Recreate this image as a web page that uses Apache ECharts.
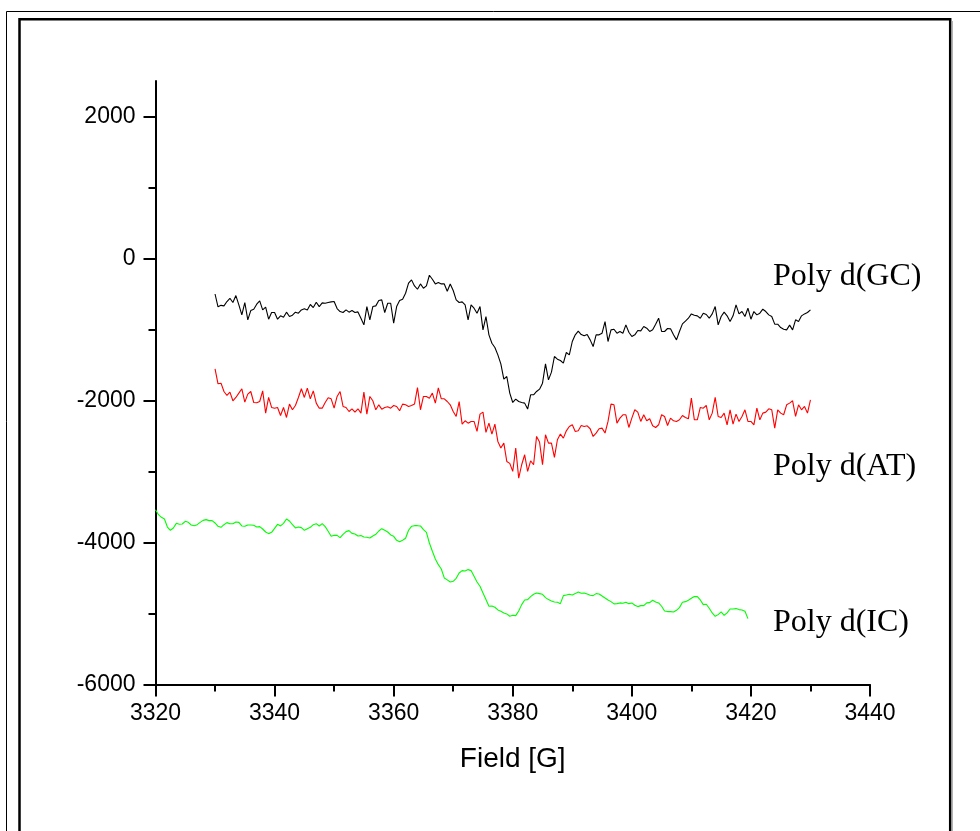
<!DOCTYPE html>
<html>
<head>
<meta charset="utf-8">
<script src="https://cdn.jsdelivr.net/npm/echarts@6/dist/echarts.min.js"></script>
<style>
html,body{margin:0;padding:0;background:#fff;}
#chart{width:980px;height:831px;}
</style>
</head>
<body>
<div id="chart"></div>
<script>
// Field values (G) sampled for Poly d(GC) and Poly d(AT)
var fieldGCAT = [
3330,3330.5,3331,3331.5,3332,3332.5,3333,3333.5,3334,3334.5,
3335,3335.5,3336,3336.5,3337,3337.5,3338,3338.5,3339,3339.5,
3340,3340.5,3341,3341.5,3342,3342.5,3343,3343.5,3344,3344.5,
3345,3345.5,3346,3346.5,3347,3347.5,3348,3348.5,3349,3349.5,
3350,3350.5,3351,3351.5,3352,3352.5,3353,3353.5,3354,3354.5,
3355,3355.5,3356,3356.5,3357,3357.5,3358,3358.5,3359,3359.5,
3360,3360.5,3361,3361.5,3362,3362.5,3363,3363.5,3364,3364.5,
3365,3365.5,3366,3366.5,3367,3367.5,3368,3368.5,3369,3369.5,
3370,3370.5,3371,3371.5,3372,3372.5,3373,3373.5,3374,3374.5,
3375,3375.5,3376,3376.5,3377,3377.5,3378,3378.5,3379,3379.5,
3380,3380.5,3381,3381.5,3382,3382.5,3383,3383.5,3384,3384.5,
3385,3385.5,3386,3386.5,3387,3387.5,3388,3388.5,3389,3389.5,
3390,3390.5,3391,3391.5,3392,3392.5,3393,3393.5,3394,3394.5,
3395,3395.5,3396,3396.5,3397,3397.5,3398,3398.5,3399,3399.5,
3400,3400.5,3401,3401.5,3402,3402.5,3403,3403.5,3404,3404.5,
3405,3405.5,3406,3406.5,3407,3407.5,3408,3408.5,3409,3409.5,
3410,3410.5,3411,3411.5,3412,3412.5,3413,3413.5,3414,3414.5,
3415,3415.5,3416,3416.5,3417,3417.5,3418,3418.5,3419,3419.5,
3420,3420.5,3421,3421.5,3422,3422.5,3423,3423.5,3424,3424.5,
3425,3425.5,3426,3426.5,3427,3427.5,3428,3428.5,3429,3429.5,
3430
];
// Field values (G) sampled for Poly d(IC)
var fieldIC = [
3320,3320.5,3321,3321.5,3322,3322.5,3323,3323.5,3324,3324.5,
3325,3325.5,3326,3326.5,3327,3327.5,3328,3328.5,3329,3329.5,
3330,3330.5,3331,3331.5,3332,3332.5,3333,3333.5,3334,3334.5,
3335,3335.5,3336,3336.5,3337,3337.5,3338,3338.5,3339,3339.5,
3340,3340.5,3341,3341.5,3342,3342.5,3343,3343.5,3344,3344.5,
3345,3345.5,3346,3346.5,3347,3347.5,3348,3348.5,3349,3349.5,
3350,3350.5,3351,3351.5,3352,3352.5,3353,3353.5,3354,3354.5,
3355,3355.5,3356,3356.5,3357,3357.5,3358,3358.5,3359,3359.5,
3360,3360.5,3361,3361.5,3362,3362.5,3363,3363.5,3364,3364.5,
3365,3365.5,3366,3366.5,3367,3367.5,3368,3368.5,3369,3369.5,
3370,3370.5,3371,3371.5,3372,3372.5,3373,3373.5,3374,3374.5,
3375,3375.5,3376,3376.5,3377,3377.5,3378,3378.5,3379,3379.5,
3380,3380.5,3381,3381.5,3382,3382.5,3383,3383.5,3384,3384.5,
3385,3385.5,3386,3386.5,3387,3387.5,3388,3388.5,3389,3389.5,
3390,3390.5,3391,3391.5,3392,3392.5,3393,3393.5,3394,3394.5,
3395,3395.5,3396,3396.5,3397,3397.5,3398,3398.5,3399,3399.5,
3400,3400.5,3401,3401.5,3402,3402.5,3403,3403.5,3404,3404.5,
3405,3405.5,3406,3406.5,3407,3407.5,3408,3408.5,3409,3409.5,
3410,3410.5,3411,3411.5,3412,3412.5,3413,3413.5,3414,3414.5,
3415,3415.5,3416,3416.5,3417,3417.5,3418,3418.5,3419,3419.5
];
// Signal values
var gcSignal = [
-500,-680,-660,-667,-606,-560,-620,-522,-653,-794,
-620,-864,-733,-714,-644,-597,-723,-686,-855,-761,
-761,-855,-808,-827,-756,-817,-799,-756,-770,-724,
-709,-724,-648,-691,-616,-677,-625,-630,-620,-611,
-606,-705,-747,-761,-724,-756,-733,-761,-752,-841,
-935,-677,-864,-677,-667,-592,-583,-761,-630,-630,
-911,-677,-592,-573,-489,-348,-301,-386,-433,-358,
-419,-386,-236,-292,-358,-339,-358,-358,-461,-358,
-451,-583,-620,-611,-653,-864,-653,-700,-770,-677,
-1005,-817,-1075,-1193,-1254,-1357,-1484,-1699,-1662,-1896,
-2028,-1981,-2014,-2028,-2037,-2121,-1920,-1920,-1873,-1840,
-1756,-1484,-1709,-1601,-1380,-1418,-1437,-1474,-1324,-1357,
-1169,-1075,-1024,-1071,-1089,-1071,-1146,-1240,-1075,-1075,
-1052,-888,-1169,-1005,-996,-1052,-1028,-1052,-935,-1038,
-1099,-1075,-1014,-1019,-958,-982,-1028,-1005,-925,-841,
-1028,-1028,-986,-991,-1075,-1146,-1028,-921,-883,-841,
-780,-799,-808,-841,-770,-789,-841,-780,-677,-935,
-817,-756,-808,-888,-808,-653,-780,-747,-817,-700,
-855,-747,-794,-770,-714,-747,-794,-817,-925,-925,
-972,-996,-1005,-939,-1005,-864,-888,-808,-780,-761,
-724
];
var atSignal = [
-1554,-1765,-1756,-1873,-1929,-1882,-2004,-1957,-1896,-1835,
-2023,-1911,-1873,-2028,-2032,-2014,-1864,-2178,-1957,-2098,
-2108,-2098,-2211,-2098,-2239,-2051,-2131,-2070,-1957,-1835,
-1957,-1826,-1976,-1864,-2037,-2108,-2108,-2028,-1962,-1976,
-2108,-1943,-1873,-2084,-2098,-2155,-2117,-2164,-2117,-2178,
-1882,-2192,-1943,-2004,-2131,-2061,-2122,-2098,-2089,-2108,
-2070,-2084,-2145,-2051,-2061,-2084,-2070,-2051,-1817,-2131,
-1943,-1943,-1967,-1896,-2037,-1821,-1976,-1976,-2014,-2061,
-2155,-2225,-2014,-2333,-2286,-2319,-2295,-2295,-2436,-2192,
-2164,-2450,-2319,-2473,-2333,-2577,-2670,-2600,-2858,-2886,
-2999,-2670,-3093,-2905,-2764,-2999,-2849,-2905,-2506,-2586,
-2905,-2483,-2600,-2600,-2802,-2553,-2473,-2530,-2427,-2366,
-2342,-2436,-2427,-2352,-2366,-2356,-2398,-2506,-2459,-2398,
-2389,-2459,-2295,-2051,-2061,-2319,-2248,-2201,-2201,-2380,
-2248,-2131,-2164,-2295,-2201,-2286,-2258,-2356,-2380,-2342,
-2201,-2225,-2352,-2248,-2286,-2295,-2272,-2211,-2239,-2258,
-1967,-2272,-2272,-2098,-2108,-2070,-2272,-2178,-1957,-2225,
-2239,-2178,-2342,-2131,-2333,-2192,-2295,-2225,-2131,-2295,
-2295,-2342,-2108,-2272,-2178,-2164,-2117,-2131,-2389,-2131,
-2178,-2201,-2061,-2037,-2004,-2225,-2061,-2131,-2084,-2178,
-1990
];
var icSignal = [
-3538,-3608,-3645,-3669,-3782,-3828,-3795,-3730,-3744,-3739,
-3702,-3716,-3753,-3763,-3749,-3716,-3688,-3678,-3692,-3692,
-3725,-3772,-3786,-3749,-3720,-3735,-3735,-3711,-3716,-3767,
-3772,-3753,-3753,-3758,-3782,-3777,-3810,-3852,-3875,-3857,
-3800,-3744,-3767,-3730,-3669,-3697,-3749,-3795,-3782,-3791,
-3828,-3805,-3786,-3749,-3735,-3767,-3735,-3777,-3842,-3913,
-3899,-3899,-3932,-3885,-3847,-3833,-3871,-3880,-3908,-3903,
-3922,-3927,-3936,-3908,-3885,-3838,-3805,-3828,-3852,-3894,
-3913,-3969,-3988,-3969,-3941,-3828,-3772,-3763,-3763,-3767,
-3819,-3857,-4007,-4124,-4232,-4312,-4373,-4499,-4527,-4556,
-4546,-4504,-4429,-4396,-4401,-4382,-4396,-4476,-4556,-4617,
-4710,-4804,-4898,-4894,-4912,-4950,-4969,-4992,-5006,-5039,
-5025,-5030,-4964,-4875,-4809,-4804,-4762,-4729,-4711,-4720,
-4729,-4776,-4804,-4823,-4837,-4842,-4861,-4748,-4739,-4729,
-4739,-4720,-4697,-4715,-4711,-4725,-4743,-4748,-4720,-4725,
-4753,-4781,-4809,-4833,-4865,-4861,-4851,-4856,-4842,-4861,
-4851,-4884,-4903,-4889,-4889,-4851,-4847,-4814,-4837,-4851,
-4898,-4964,-4973,-4973,-4978,-4955,-4917,-4842,-4833,-4814,
-4786,-4762,-4762,-4809,-4875,-4870,-4926,-4992,-5039,-5016,
-4978,-5025,-4992,-4936,-4936,-4931,-4945,-4950,-4969,-5072
];
var seriesNames = ['Poly d(GC)', 'Poly d(AT)', 'Poly d(IC)'];
var yTickLabels = [-6000, -4000, -2000, 0, 2000];
var yMinorTicks = [-5000, -3000, -1000, 1000];
var xAxisTitle = 'Field [G]';

function pairs(xs, ys) {
  var out = [];
  for (var i = 0; i < xs.length; i++) out.push([xs[i], ys[i]]);
  return out;
}
function plain(v) { return String(v); }

var chart = echarts.init(document.getElementById('chart'), null, {renderer: 'canvas'});
var axisFont = 'Liberation Sans';
var option = {
  animation: false,
  backgroundColor: '#ffffff',
  grid: {left: 155.5, top: 81, width: 714.5, height: 603.5},
  xAxis: {
    type: 'value', min: 3320, max: 3440, interval: 20,
    name: xAxisTitle, nameLocation: 'middle', nameGap: 61,
    nameTextStyle: {fontFamily: axisFont, fontSize: 28, color: '#000'},
    axisLine: {onZero: false, lineStyle: {color: '#000', width: 2}},
    axisTick: {show: true, length: 12, lineStyle: {color: '#000', width: 2}},
    minorTick: {show: true, splitNumber: 2, length: 7, lineStyle: {color: '#000', width: 2}},
    axisLabel: {fontFamily: axisFont, fontSize: 23, color: '#000', margin: 18, formatter: plain},
    splitLine: {show: false}
  },
  yAxis: [{
    type: 'value', min: -6000, max: 2500, position: 'left',
    axisLine: {onZero: false, lineStyle: {color: '#000', width: 2}},
    axisTick: {show: true, length: 12, customValues: yTickLabels, lineStyle: {color: '#000', width: 2}},
    axisLabel: {customValues: yTickLabels, fontFamily: axisFont, fontSize: 23, color: '#000', margin: 20, formatter: plain},
    splitLine: {show: false}
  }, {
    type: 'value', min: -6000, max: 2500, position: 'left',
    axisLine: {show: false, onZero: false},
    axisTick: {show: true, length: 7, customValues: yMinorTicks, lineStyle: {color: '#000', width: 2}},
    axisLabel: {show: false},
    splitLine: {show: false}
  }],
  series: [
    {name: seriesNames[0], type: 'line', data: pairs(fieldGCAT, gcSignal), showSymbol: false, symbol: 'none',
     lineStyle: {color: '#000000', width: 1.1}},
    {name: seriesNames[1], type: 'line', data: pairs(fieldGCAT, atSignal), showSymbol: false, symbol: 'none',
     lineStyle: {color: '#ff0000', width: 1.1}},
    {name: seriesNames[2], type: 'line', data: pairs(fieldIC, icSignal), showSymbol: false, symbol: 'none',
     lineStyle: {color: '#00ff00', width: 1.1}}
  ],
  graphic: [
    {type: 'rect', silent: true, z: -10, shape: {x: 6.5, y: 11.5, width: 1000, height: 1000},
     style: {fill: 'none', stroke: '#000', lineWidth: 1}},
    {type: 'rect', silent: true, z: -10, shape: {x: 19.5, y: 19.3, width: 930.7, height: 1000},
     style: {fill: 'none', stroke: '#000', lineWidth: 2.5}},
    {type: 'line', silent: true, z: -10, shape: {x1: 952, y1: 21, x2: 952, y2: 831},
     style: {stroke: '#9a9a9a', lineWidth: 1.5}},
    {type: 'text', silent: true, x: 773, y: 277,
     style: {text: seriesNames[0], font: '32px "Liberation Serif"', fill: '#000', verticalAlign: 'middle', align: 'left'}},
    {type: 'text', silent: true, x: 773, y: 467,
     style: {text: seriesNames[1], font: '32px "Liberation Serif"', fill: '#000', verticalAlign: 'middle', align: 'left'}},
    {type: 'text', silent: true, x: 773, y: 623,
     style: {text: seriesNames[2], font: '32px "Liberation Serif"', fill: '#000', verticalAlign: 'middle', align: 'left'}}
  ]
};
chart.setOption(option);
</script>
</body>
</html>
